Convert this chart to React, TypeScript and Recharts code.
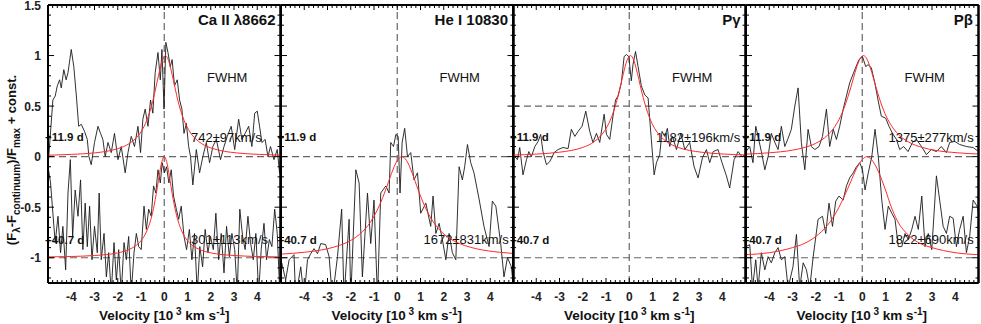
import React from "react";
import { LineChart, Line, XAxis, YAxis, ReferenceLine } from "recharts";

type Pair = [number, number];

// velocity [10^3 km/s], normalised flux + const
const CA_TOP: Pair[] = [
  [-5.0, -0.1], [-4.79, 0.56], [-4.69, 0.6], [-4.6, 0.7], [-4.5, 0.76], [-4.43, 0.68], [-4.32, 0.86],
  [-4.22, 0.76], [-4.14, 0.83], [-4.0, 1.06], [-3.89, 0.89], [-3.78, 0.6], [-3.68, 0.3], [-3.57, 0.32],
  [-3.43, 0.25], [-3.31, 0.17], [-3.24, 0.0], [-3.14, -0.08], [-3.0, 0.14], [-2.85, 0.3], [-2.74, 0.23],
  [-2.64, 0.17], [-2.54, 0.0], [-2.42, 0.14], [-2.28, 0.04], [-2.14, 0.23], [-1.99, -0.03], [-1.85, 0.1],
  [-1.68, -0.16], [-1.56, 0.04], [-1.42, 0.2], [-1.28, 0.1], [-1.13, 0.3], [-1.02, 0.04], [-0.92, 0.37],
  [-0.82, 0.47], [-0.7, 0.3], [-0.59, 0.56], [-0.49, 0.43], [-0.39, 0.83], [-0.27, 1.03], [-0.17, 0.76],
  [-0.1, 1.06], [-0.01, 0.47], [0.07, 1.13], [0.16, 1.03], [0.26, 0.89], [0.34, 0.96], [0.44, 0.7],
  [0.56, 0.76], [0.66, 0.56], [0.76, 0.47], [0.85, 0.23], [0.95, 0.33], [1.05, 0.1], [1.13, 0.0],
  [1.23, -0.28], [1.38, 0.07], [1.52, -0.16], [1.66, 0.0], [1.81, 0.14], [1.95, -0.06], [2.09, 0.1],
  [2.24, 0.17], [2.42, -0.03], [2.57, 0.1], [2.71, 0.2], [2.88, 0.3], [3.03, 0.07], [3.2, 0.37],
  [3.34, 0.17], [3.48, 0.23], [3.63, 0.3], [3.77, 0.1], [3.89, 0.43], [4.0, 0.45], [4.1, 0.3],
  [4.2, 0.14], [4.34, 0.17], [4.46, 0.0], [4.57, 0.1], [4.72, -0.03], [4.86, 0.07], [4.96, -0.16], [5.0, 0.0],
];

const CA_BOT: Pair[] = [
  [-5.0, -0.1], [-4.89, -0.26], [-4.79, -0.56], [-4.69, -0.85], [-4.57, -0.59], [-4.46, -0.95], [-4.36, -0.69],
  [-4.24, -1.12], [-4.14, -0.36], [-4.04, -0.03], [-3.94, -0.79], [-3.83, -0.33], [-3.71, -0.59], [-3.6, -0.23],
  [-3.5, -0.92], [-3.4, -0.46], [-3.31, -0.89], [-3.21, -0.49], [-3.11, -1.02], [-3.0, -0.69], [-2.88, -0.95],
  [-2.8, -0.36], [-2.71, -1.02], [-2.59, -0.76], [-2.49, -1.19], [-2.39, -0.95], [-2.28, -1.35], [-2.16, -0.85],
  [-2.06, -1.22], [-1.96, -0.92], [-1.85, -1.35], [-1.73, -0.85], [-1.63, -1.02], [-1.53, -0.79], [-1.42, -1.35],
  [-1.3, -0.95], [-1.2, -0.76], [-1.1, -0.89], [-0.99, -0.92], [-0.87, -0.49], [-0.77, -0.72], [-0.67, -0.52],
  [-0.56, -0.59], [-0.46, -0.29], [-0.36, -0.36], [-0.27, -0.13], [-0.17, -0.26], [-0.09, -0.06], [0.01, -0.16],
  [0.1, -0.1], [0.2, -0.26], [0.3, -0.13], [0.4, -0.39], [0.52, -0.52], [0.62, -0.62], [0.73, -0.49],
  [0.85, -0.79], [0.96, -0.92], [1.08, -0.72], [1.19, -1.02], [1.3, -0.76], [1.42, -1.35], [1.53, -0.89],
  [1.65, -1.09], [1.76, -0.72], [1.88, -0.95], [1.99, -0.79], [2.11, -0.92], [2.22, -0.56], [2.34, -1.02],
  [2.45, -0.76], [2.57, -1.15], [2.68, -0.69], [2.8, -0.99], [2.91, -0.76], [3.03, -0.92], [3.14, -1.35],
  [3.25, -0.52], [3.37, -0.79], [3.48, -0.92], [3.6, -0.59], [3.71, -0.85], [3.83, -1.02], [3.94, -0.76],
  [4.06, -1.35], [4.17, -0.92], [4.29, -0.66], [4.4, -1.02], [4.52, -0.82], [4.63, -0.89], [4.75, -0.52],
  [4.86, -0.76], [4.97, -1.35],
];

const HE_BOT: Pair[] = [
  [-5.0, -1.02], [-4.8, -1.22], [-4.65, -1.02], [-4.44, -0.97], [-4.37, -1.4], [-4.15, -1.09], [-4.01, -1.4],
  [-3.86, -1.02], [-3.72, -0.96], [-3.58, -0.91], [-3.43, -0.96], [-3.29, -0.86], [-3.08, -0.87], [-2.93, -0.99],
  [-2.79, -1.4], [-2.57, -0.99], [-2.39, -0.52], [-2.29, -1.4], [-2.07, -0.62], [-2.0, -1.4], [-1.78, -0.13],
  [-1.64, -0.26], [-1.5, -1.19], [-1.28, -0.36], [-1.14, -0.86], [-1.0, -0.43], [-0.85, -1.4], [-0.71, -0.36],
  [-0.49, -0.29], [-0.35, -0.36], [-0.28, 0.14], [-0.16, 0.1], [-0.06, 0.22], [0.04, 0.2], [0.12, -0.36],
  [0.21, 0.14], [0.32, 0.28], [0.44, 0.0], [0.58, 0.04], [0.72, -0.23], [0.87, -0.16], [1.01, -0.56],
  [1.23, -0.46], [1.44, -0.69], [1.54, -0.39], [1.66, -0.76], [1.8, -0.66], [1.94, -0.82], [2.09, -1.02],
  [2.23, -0.76], [2.37, -0.95], [2.52, -1.02], [2.66, -0.1], [2.8, -0.23], [2.9, -0.1], [3.02, 0.12],
  [3.16, -0.06], [3.3, -0.16], [3.52, -0.42], [3.73, -0.69], [3.95, -0.89], [4.09, -0.44], [4.24, -0.49],
  [4.45, -0.86], [4.59, -1.19], [4.74, -1.0], [4.91, -1.09], [5.0, -1.3],
];

const PG_TOP: Pair[] = [
  [-5.0, 0.02], [-4.81, -0.03], [-4.71, 0.09], [-4.57, -0.18], [-4.42, -0.03], [-4.32, 0.05], [-4.21, 0.0],
  [-4.06, 0.1], [-3.92, 0.15], [-3.81, 0.22], [-3.71, 0.05], [-3.56, -0.08], [-3.42, -0.05], [-3.23, 0.04],
  [-3.06, 0.07], [-2.85, 0.09], [-2.63, 0.08], [-2.49, 0.27], [-2.34, 0.2], [-2.2, 0.25], [-2.03, 0.3],
  [-1.87, 0.45], [-1.7, 0.25], [-1.56, 0.14], [-1.41, 0.23], [-1.27, 0.14], [-1.08, 0.42], [-0.98, 0.22],
  [-0.84, 0.17], [-0.7, 0.4], [-0.59, 0.56], [-0.48, 0.6], [-0.34, 0.73], [-0.22, 0.99], [-0.12, 1.01],
  [-0.02, 0.99], [0.09, 0.75], [0.16, 0.91], [0.27, 1.04], [0.38, 0.89], [0.52, 0.7], [0.67, 0.61],
  [0.81, 0.58], [0.95, 0.17], [1.07, -0.18], [1.17, -0.06], [1.31, 0.02], [1.41, 0.25], [1.53, 0.2],
  [1.64, 0.28], [1.74, 0.1], [1.86, 0.2], [2.03, 0.07], [2.22, 0.23], [2.39, 0.07], [2.6, 0.14],
  [2.79, -0.1], [2.96, -0.21], [3.15, -0.01], [3.32, 0.07], [3.46, -0.06], [3.61, 0.05], [3.82, 0.07],
  [3.99, -0.06], [4.18, -0.19], [4.32, -0.31], [4.51, -0.03], [4.68, 0.05], [4.85, 0.0], [5.0, 0.02],
];

const PB_TOP: Pair[] = [
  [-5.0, 0.05], [-4.84, 0.1], [-4.7, -0.06], [-4.58, 0.3], [-4.48, 0.2], [-4.34, 0.05], [-4.19, -0.13],
  [-4.05, 0.0], [-3.91, 0.23], [-3.76, 0.14], [-3.62, 0.07], [-3.48, 0.3], [-3.33, 0.1], [-3.19, 0.18],
  [-3.05, 0.27], [-2.9, 0.5], [-2.76, 0.68], [-2.62, 0.14], [-2.47, -0.13], [-2.33, 0.27], [-2.19, 0.1],
  [-2.04, 0.07], [-1.86, 0.1], [-1.71, 0.2], [-1.54, 0.47], [-1.4, 0.1], [-1.25, 0.27], [-1.11, 0.17],
  [-0.97, 0.3], [-0.82, 0.47], [-0.68, 0.6], [-0.54, 0.73], [-0.32, 0.86], [-0.14, 0.96], [0.01, 0.99],
  [0.15, 0.89], [0.25, 0.91], [0.39, 0.88], [0.54, 0.73], [0.68, 0.56], [0.82, 0.4], [1.01, 0.38],
  [1.15, 0.3], [1.3, 0.23], [1.47, 0.17], [1.61, 0.07], [1.78, 0.1], [1.97, 0.05], [2.16, 0.14],
  [2.33, 0.17], [2.55, 0.1], [2.76, 0.02], [2.97, 0.07], [3.19, 0.05], [3.4, 0.1], [3.62, 0.04],
  [3.76, 0.14], [3.98, 0.15], [4.19, 0.12], [4.48, 0.1], [4.77, 0.09], [5.0, 0.05],
];

const PB_BOT: Pair[] = [
  [-5.0, -0.89], [-4.84, -0.87], [-4.72, -1.3], [-4.58, -1.02], [-4.48, -1.3], [-4.34, -0.95], [-4.19, -1.12],
  [-4.05, -0.99], [-3.91, -1.05], [-3.76, -0.95], [-3.62, -0.9], [-3.48, -1.02], [-3.33, -0.99], [-3.19, -1.3],
  [-2.98, -1.09], [-2.83, -0.77], [-2.69, -1.3], [-2.54, -1.05], [-2.4, -1.12], [-2.26, -1.3], [-2.11, -0.99],
  [-1.9, -0.62], [-1.71, -0.59], [-1.57, -0.76], [-1.43, -0.46], [-1.28, -0.69], [-1.14, -0.44], [-1.0, -0.39],
  [-0.82, -0.43], [-0.68, -0.29], [-0.54, -0.21], [-0.39, -0.16], [-0.25, -0.1], [-0.11, -0.06], [0.01, -0.13],
  [0.12, -0.33], [0.26, -0.16], [0.41, 0.0], [0.55, 0.27], [0.69, 0.0], [0.84, -0.43], [0.98, -0.72],
  [1.12, -0.49], [1.27, -0.56], [1.41, -0.62], [1.55, -0.89], [1.7, -0.89], [1.84, -0.76], [1.98, -0.82],
  [2.13, -0.72], [2.27, -0.59], [2.41, -0.72], [2.56, -0.39], [2.7, -0.89], [2.84, -0.76], [2.99, -0.92],
  [3.19, -0.19], [3.33, -0.43], [3.48, -0.69], [3.62, -0.76], [3.76, -0.59], [3.91, -0.61], [4.05, -0.89],
  [4.19, -0.72], [4.34, -0.59], [4.48, -0.95], [4.62, -0.79], [4.77, -0.43], [4.94, -0.49], [5.0, -0.55],
];

// red line fits
const CA_TOP_FIT: Pair[] = [
  [-5, 0.014], [-4, 0.022], [-3, 0.037], [-2.5, 0.052], [-2, 0.079], [-1.5, 0.13], [-1.25, 0.176], [-1, 0.246],
  [-0.75, 0.36], [-0.5, 0.543], [-0.25, 0.8], [-0.1, 0.94], [0.05, 1], [0.2, 0.94], [0.35, 0.8], [0.6, 0.543],
  [0.85, 0.36], [1.1, 0.246], [1.35, 0.176], [1.6, 0.13], [2.1, 0.079], [2.6, 0.052], [3.1, 0.037], [4.1, 0.022], [5, 0.015],
];
const CA_BOT_FIT: Pair[] = [
  [-5, -0.992], [-4, -0.988], [-3, -0.978], [-2.5, -0.969], [-2, -0.952], [-1.5, -0.917], [-1.25, -0.885],
  [-1, -0.832], [-0.75, -0.735], [-0.5, -0.553], [-0.35, -0.377], [-0.25, -0.236], [-0.1, -0.047], [0, 0],
  [0.1, -0.047], [0.25, -0.236], [0.35, -0.377], [0.5, -0.553], [0.75, -0.735], [1, -0.832], [1.25, -0.885],
  [1.5, -0.917], [2, -0.952], [2.5, -0.969], [3, -0.978], [4, -0.988], [5, -0.992],
];
const HE_BOT_FIT: Pair[] = [
  [-5, -0.964], [-4, -0.946], [-3, -0.911], [-2.5, -0.879], [-2, -0.829], [-1.5, -0.743], [-1.25, -0.678],
  [-1, -0.59], [-0.75, -0.474], [-0.5, -0.329], [-0.25, -0.168], [0, -0.038], [0.2, 0], [0.4, -0.038],
  [0.65, -0.168], [0.9, -0.329], [1.15, -0.474], [1.4, -0.59], [1.65, -0.678], [1.9, -0.743], [2.4, -0.829],
  [2.9, -0.879], [3.4, -0.911], [4.4, -0.946], [5, -0.958],
];
const PG_TOP_FIT: Pair[] = [
  [-5, 0.016], [-4, 0.025], [-3, 0.044], [-2.5, 0.061], [-2, 0.091], [-1.5, 0.149], [-1.25, 0.2], [-1, 0.277],
  [-0.75, 0.398], [-0.5, 0.583], [-0.25, 0.824], [-0.1, 0.95], [0.05, 1], [0.2, 0.95], [0.35, 0.824], [0.6, 0.583],
  [0.85, 0.398], [1.1, 0.277], [1.35, 0.2], [1.6, 0.149], [2.1, 0.091], [2.6, 0.061], [3.1, 0.044], [4.1, 0.025], [5, 0.017],
];
const PB_TOP_FIT: Pair[] = [
  [-5, 0.025], [-4, 0.038], [-3, 0.064], [-2.5, 0.09], [-2, 0.132], [-1.5, 0.21], [-1.25, 0.275], [-1, 0.367],
  [-0.75, 0.5], [-0.5, 0.679], [-0.25, 0.877], [-0.1, 0.966], [0.05, 1], [0.2, 0.966], [0.35, 0.877], [0.6, 0.679],
  [0.85, 0.5], [1.1, 0.367], [1.35, 0.275], [1.6, 0.21], [2.1, 0.132], [2.6, 0.09], [3.1, 0.064], [4.1, 0.038], [5, 0.026],
];
const PB_BOT_FIT: Pair[] = [
  [-5, -0.97], [-4, -0.95], [-3, -0.9], [-2.5, -0.86], [-2, -0.79], [-1.5, -0.68], [-1, -0.5], [-0.75, -0.38],
  [-0.5, -0.25], [-0.25, -0.12], [0, -0.03], [0.2, 0], [0.4, -0.03], [0.7, -0.15], [1, -0.33], [1.25, -0.5],
  [1.5, -0.63], [2, -0.78], [2.5, -0.86], [3, -0.9], [4, -0.95], [5, -0.97],
];

const TITLES = ["Ca II \u03bb8662", "He I 10830", "P\u03b3", "P\u03b2"];
const FWHM_EARLY = ["742\u00b197km/s", "", "1182\u00b1196km/s", "1375\u00b1277km/s"];
const FWHM_LATE = ["301\u00b1113km/s", "1672\u00b1831km/s", "", "1822\u00b1690km/s"];
const EPOCHS = ["+11.9 d", "+40.7 d"];
const X_LABELS = [-4, -3, -2, -1, 0, 1, 2, 3, 4];
const Y_LABELS = [-1, -0.5, 0, 0.5, 1, 1.5];

const X_TICKS = Array.from({ length: 51 }, (_, i) => Math.round((-5 + i * 0.2) * 10) / 10);
const Y_TICKS = Array.from({ length: 28 }, (_, i) => Math.round((-1.2 + i * 0.1) * 10) / 10);

const PANEL_LEFT = [48, 280.5, 513, 745.5];
const PANEL_W = 232.5;
const SIDE = 10;
const FONT = "'Liberation Sans', Arial, Helvetica, sans-serif";

const toPts = (a: Pair[] | null) => (a ? a.map(([v, f]) => ({ v, f })) : null);

const panels = [
  { top: CA_TOP, topFit: CA_TOP_FIT, bot: CA_BOT, botFit: CA_BOT_FIT, halfLine: false },
  { top: null, topFit: null, bot: HE_BOT, botFit: HE_BOT_FIT, halfLine: false },
  { top: PG_TOP, topFit: PG_TOP_FIT, bot: null, botFit: null, halfLine: true },
  { top: PB_TOP, topFit: PB_TOP_FIT, bot: PB_BOT, botFit: PB_BOT_FIT, halfLine: false },
];

const near = (v: number, list: number[]) => list.some((l) => Math.abs(l - v) < 1e-6);
const tickFont = { fontFamily: FONT, fontSize: 12, fontWeight: 700, fill: "#222" };

function xTick(side: "top" | "bottom", labels: boolean) {
  return (p: any) => {
    const v = p.payload.value;
    const major = Math.abs(v - Math.round(v)) < 1e-6;
    const d = side === "bottom" ? -1 : 1;
    return (
      <g>
        <line x1={p.x} x2={p.x} y1={p.y} y2={p.y + d * (major ? 5 : 3)} stroke="#000" />
        {labels && near(v, X_LABELS) ? (
          <text x={p.x} y={p.y + 18} textAnchor="middle" style={tickFont}>
            {v}
          </text>
        ) : null}
      </g>
    );
  };
}

function yTick(side: "left" | "right", labels: boolean) {
  return (p: any) => {
    const v = p.payload.value;
    const major = Math.abs(v * 2 - Math.round(v * 2)) < 1e-6;
    const d = side === "left" ? 1 : -1;
    return (
      <g>
        <line x1={p.x} x2={p.x + d * (major ? 6 : 3)} y1={p.y} y2={p.y} stroke="#000" />
        {labels && near(v, Y_LABELS) ? (
          <text x={p.x - 7} y={p.y + 4.5} textAnchor="end" style={tickFont}>
            {v}
          </text>
        ) : null}
      </g>
    );
  };
}

const AXIS_LINE = { stroke: "#000", strokeWidth: 2 };
const FRAME = { stroke: "#000", strokeWidth: 2 };
const DASH = { stroke: "#666", strokeDasharray: "7 4", strokeWidth: 1.2 };
const X_PROPS = {
  dataKey: "v",
  type: "number" as const,
  domain: [-5, 5],
  ticks: X_TICKS,
  interval: 0,
  tickSize: 0,
  tickMargin: 0,
  tickLine: false,
  axisLine: AXIS_LINE,
  allowDataOverflow: true,
};
const Y_PROPS = {
  type: "number" as const,
  domain: [-1.25, 1.5],
  ticks: Y_TICKS,
  interval: 0,
  tickSize: 0,
  tickMargin: 0,
  tickLine: false,
  axisLine: AXIS_LINE,
  allowDataOverflow: true,
};

function Panel({ i }: { i: number }) {
  const first = i === 0;
  const p = panels[i];
  const lw = first ? 48 : SIDE;
  const width = lw + PANEL_W + SIDE;
  const top = toPts(p.top);
  const topFit = toPts(p.topFit);
  const bot = toPts(p.bot);
  const botFit = toPts(p.botFit);
  return (
    <div style={{ position: "absolute", left: PANEL_LEFT[i] - lw, top: 0 }}>
      <LineChart width={width} height={324} margin={{ top: 0, right: 0, bottom: 0, left: 0 }}>
        <XAxis {...X_PROPS} height={41} tick={xTick("bottom", true)} />
        <XAxis {...X_PROPS} xAxisId="t" orientation="top" height={5} tick={xTick("top", false)} />
        <YAxis {...Y_PROPS} width={lw} tick={yTick("left", first)} />
        <YAxis {...Y_PROPS} yAxisId="r" orientation="right" width={SIDE} tick={yTick("right", false)} />
        <ReferenceLine x={-5} {...FRAME} />
        <ReferenceLine x={5} {...FRAME} />
        <ReferenceLine y={1.5} {...FRAME} />
        <ReferenceLine y={-1.25} {...FRAME} />
        <ReferenceLine x={0} {...DASH} />
        <ReferenceLine y={0} {...DASH} />
        <ReferenceLine y={-1} {...DASH} />
        {p.halfLine ? <ReferenceLine y={0.5} {...DASH} /> : null}
        {top ? (
          <Line data={top} dataKey="f" type="linear" stroke="#1a1a1a" strokeWidth={0.9} dot={false} isAnimationActive={false} />
        ) : null}
        {bot ? (
          <Line data={bot} dataKey="f" type="linear" stroke="#1a1a1a" strokeWidth={0.9} dot={false} isAnimationActive={false} />
        ) : null}
        {topFit ? (
          <Line data={topFit} dataKey="f" xAxisId="t" yAxisId="r" type="monotone" stroke="#ff2a2a" strokeWidth={1} dot={false} isAnimationActive={false} />
        ) : null}
        {botFit ? (
          <Line data={botFit} dataKey="f" xAxisId="t" yAxisId="r" type="monotone" stroke="#ff2a2a" strokeWidth={1} dot={false} isAnimationActive={false} />
        ) : null}
      </LineChart>
    </div>
  );
}

function Annotations() {
  const txt = { fontFamily: FONT, fill: "#111" };
  return (
    <svg width={981} height={324} style={{ position: "absolute", left: 0, top: 0, pointerEvents: "none" }}>
      {PANEL_LEFT.map((L, i) => (
        <g key={i}>
          <text x={L + PANEL_W - 5} y={25} textAnchor="end" style={{ ...txt, fontSize: 15, fontWeight: 700 }}>
            {TITLES[i]}
          </text>
          <text x={L + 159} y={82} style={{ ...txt, fontSize: 13 }}>
            FWHM
          </text>
          {FWHM_EARLY[i] ? (
            <text x={L + 143} y={142} style={{ ...txt, fontSize: 13 }}>
              {FWHM_EARLY[i]}
            </text>
          ) : null}
          {FWHM_LATE[i] ? (
            <text x={L + 143} y={244} style={{ ...txt, fontSize: 13 }}>
              {FWHM_LATE[i]}
            </text>
          ) : null}
          <text x={L - 3} y={141} style={{ ...txt, fontSize: 11.5, fontWeight: 700 }}>
            {EPOCHS[0]}
          </text>
          <text x={L - 3} y={244} style={{ ...txt, fontSize: 11.5, fontWeight: 700 }}>
            {EPOCHS[1]}
          </text>
          <text x={L + PANEL_W / 2} y={320} textAnchor="middle" style={{ ...txt, fontSize: 13.5, fontWeight: 700 }}>
            Velocity [10
            <tspan dy={-5} fontSize={10}>
              {" 3"}
            </tspan>
            <tspan dy={5}> km s</tspan>
            <tspan dy={-5} fontSize={10}>
              -1
            </tspan>
            <tspan dy={5}>]</tspan>
          </text>
        </g>
      ))}
      <text transform="translate(16,160) rotate(-90)" textAnchor="middle" style={{ ...txt, fontSize: 13, fontWeight: 700 }}>
        (F
        <tspan dy={4} fontSize={10}>
          {"\u03bb"}
        </tspan>
        <tspan dy={-4}>-F</tspan>
        <tspan dy={4} fontSize={10}>
          continuum
        </tspan>
        <tspan dy={-4}>)/F</tspan>
        <tspan dy={4} fontSize={10}>
          max
        </tspan>
        <tspan dy={-4}> + const.</tspan>
      </text>
    </svg>
  );
}

export default function App() {
  return (
    <div style={{ position: "absolute", left: 0, top: 0, width: 981, height: 324, background: "#fff" }}>
      <Annotations />
      {[0, 1, 2, 3].map((i) => (
        <Panel key={i} i={i} />
      ))}
    </div>
  );
}
